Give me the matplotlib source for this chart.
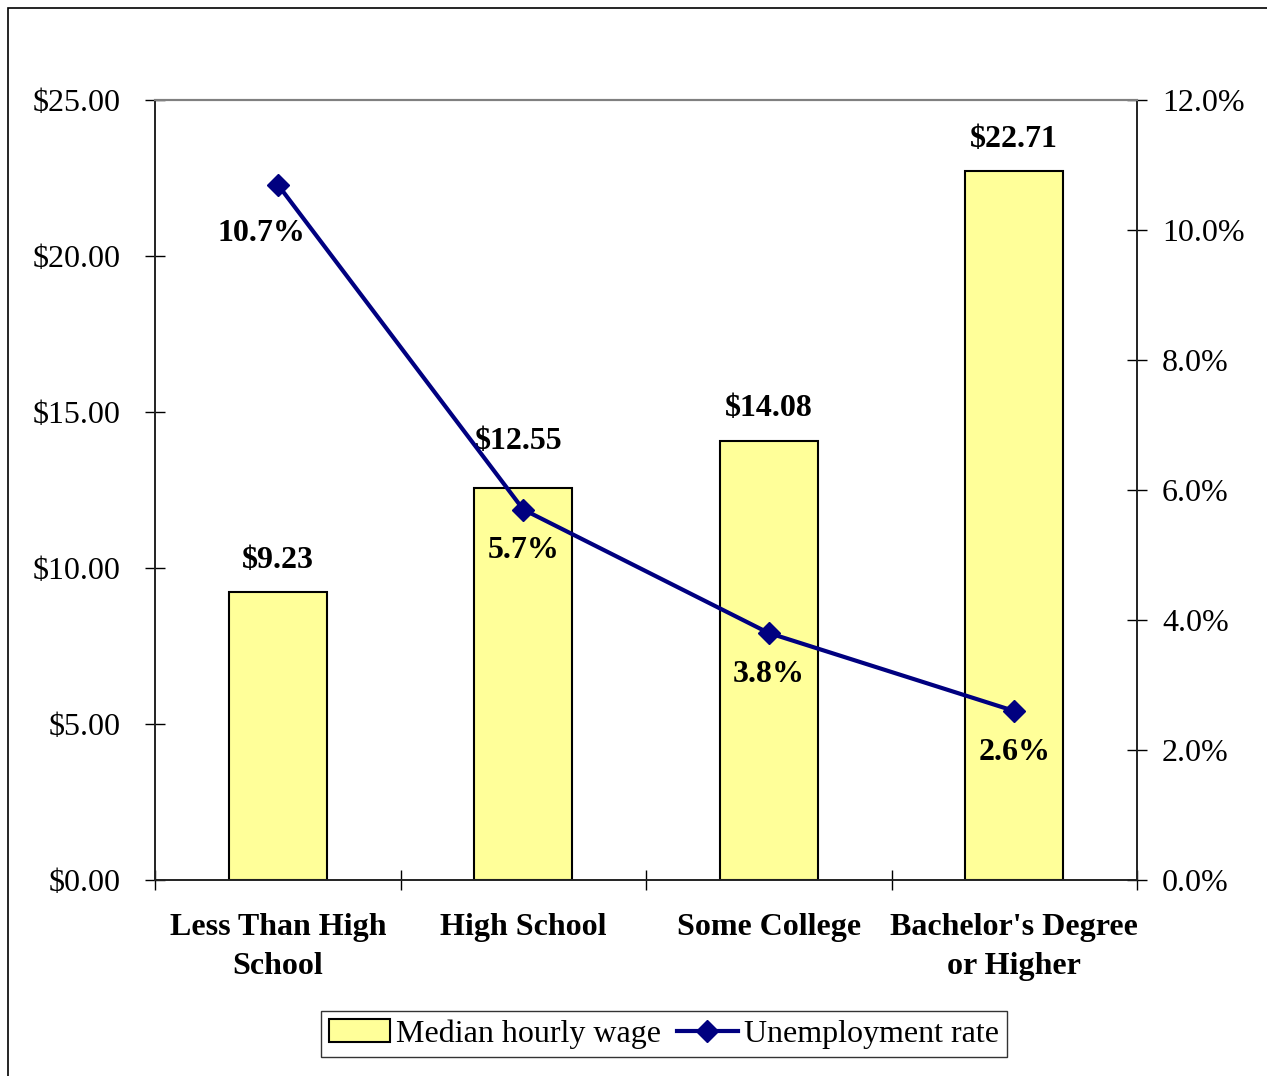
import matplotlib
matplotlib.use("Agg")
import matplotlib.pyplot as plt
from matplotlib.patches import Rectangle
from matplotlib.lines import Line2D
import numpy as np

categories = ["Less Than High\nSchool", "High School", "Some College", "Bachelor's Degree\nor Higher"]
wages = [9.23, 12.55, 14.08, 22.71]
unemployment = [10.7, 5.7, 3.8, 2.6]
wage_ticks = [0, 5, 10, 15, 20, 25]
rate_ticks = [0, 2, 4, 6, 8, 10, 12]

plt.rcParams['font.family'] = ['Liberation Serif', 'DejaVu Serif']
FS = 23

W, H = 1267, 1076
fig = plt.figure(figsize=(W/100, H/100), dpi=100)
ax = fig.add_axes([155/W, 1-880/H, (1137-155)/W, (880-100)/H])
ax2 = ax.twinx()

x = np.arange(len(categories))
ax.bar(x, wages, width=0.4, color='#FFFF99', edgecolor='black', linewidth=1.5, zorder=2)
ax.set_xlim(-0.5, len(categories)-0.5)
ax.set_ylim(0, 25)
ax.set_yticks(wage_ticks)
ax.set_yticklabels([f"${v:.2f}" for v in wage_ticks], fontsize=FS)
ax.set_xticks(np.arange(-0.5, len(categories), 1.0))
ax.set_xticklabels([])
ax.set_xticks(x, minor=True)
ax.set_xticklabels(categories, minor=True, fontsize=FS, fontweight='bold', linespacing=1.45)
ax.tick_params(axis='x', which='minor', length=0, pad=24)
ax.tick_params(axis='x', which='major', direction='inout', length=14, width=1)
ax.tick_params(axis='y', direction='inout', length=14, width=1, pad=18)

ax2.plot(x, unemployment, color='#000080', linewidth=3, marker='D', markersize=11, zorder=3)
ax2.set_ylim(0, 12)
ax2.set_yticks(rate_ticks)
ax2.set_yticklabels([f"{v:.1f}%" for v in rate_ticks], fontsize=FS)
ax2.tick_params(axis='y', direction='inout', length=14, width=1, pad=11)

for a in (ax, ax2):
    for s in ['left', 'right', 'bottom']:
        a.spines[s].set_color('#222222')
        a.spines[s].set_linewidth(1.2)
    a.spines['top'].set_color('#808080')
    a.spines['top'].set_linewidth(1.5)

# wage labels
wage_offsets = [(0, 32), (-5, 47), (0, 32), (0, 32)]
for i, v in enumerate(wages):
    dx, dy = wage_offsets[i]
    ax.annotate(f"${v:.2f}", (x[i], v), xytext=(dx*0.72, dy*0.72), textcoords='offset points',
                ha='center', va='center', fontsize=FS, fontweight='bold')

rate_offsets = [(-16, -49), (0, -41), (0, -41), (0, -41)]
for i, v in enumerate(unemployment):
    dx, dy = rate_offsets[i]
    ax2.annotate(f"{v:.1f}%", (x[i], v), xytext=(dx*0.72, dy*0.72), textcoords='offset points',
                 ha='center', va='center', fontsize=FS, fontweight='bold')

handles = [Rectangle((0, 0), 1, 1, facecolor='#FFFF99', edgecolor='black', linewidth=1.5),
           Line2D([], [], color='#000080', linewidth=3, marker='D', markersize=11)]
leg = fig.legend(handles, ["Median hourly wage", "Unemployment rate"], loc='center',
                 bbox_to_anchor=(664/W, 1-1034/H), ncol=2, fontsize=FS, frameon=True,
                 fancybox=False, edgecolor='black', handlelength=1.9, handletextpad=0.2,
                 columnspacing=0.5, borderpad=0.25, borderaxespad=0)
leg.get_frame().set_linewidth(1)

fig.patches.append(Rectangle((8/W, -0.1), 1.2, 1.1-8/H, transform=fig.transFigure,
                             fill=False, edgecolor='black', linewidth=1.2))

fig.savefig("out.png", dpi=100)
